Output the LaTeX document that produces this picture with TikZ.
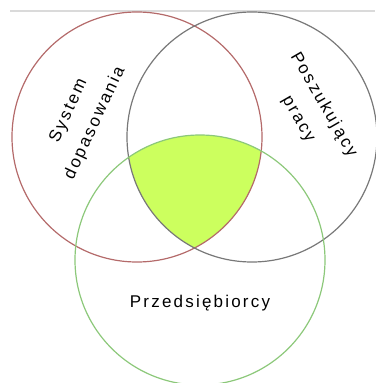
\documentclass[tikz,border=0pt]{standalone}
\usepackage{fontspec}
\setmainfont{Liberation Sans}
\newfontfamily\widesans[LetterSpace=13]{Liberation Sans}
\usepackage{xcolor}
\usepackage{tikz}
\usetikzlibrary{positioning}
\definecolor{sysred}{HTML}{B46A6A}
\definecolor{jobgray}{HTML}{787878}
\definecolor{firmgreen}{HTML}{8CC87A}
\definecolor{corelime}{HTML}{CCFF5E}
\definecolor{rulegray}{HTML}{DADADA}

\begin{document}
\begin{tikzpicture}[x=1pt,y=-1pt,every node/.style={font=\widesans\fontsize{17}{29}\selectfont},
  ring/.style={line width=1.2pt}]
\useasboundingbox (0,0) rectangle (375,383);
\coordinate (top l) at (10,11);
\coordinate (top r) at (375,11);
\draw[rulegray,line width=1.5pt] (top l) -- (top r);
\coordinate (csys) at (137,137);
\coordinate (cjob) at (252,137);
\coordinate (cfirm) at (200,260);
% common part of all three
\begin{scope}
\clip (csys) circle (125);
\clip (cjob) circle (125);
\fill[corelime] (cfirm) circle (125);
\end{scope}
\draw[ring,sysred] (csys) circle (125);
\draw[ring,jobgray] (cjob) circle (125);
\draw[ring,firmgreen] (cfirm) circle (125);
\node[rotate=65,align=center] (sys) at (82,117) {System\\dopasowania};
\node[rotate=-60,align=center] (job) at (311,112) {Poszukujący\\pracy};
\node (firm) at (200,303) {Przedsiębiorcy};
\end{tikzpicture}
\end{document}
